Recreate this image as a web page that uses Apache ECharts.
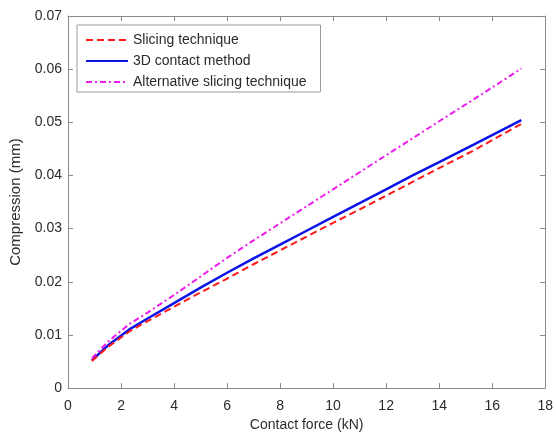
<!DOCTYPE html>
<html>
<head>
<meta charset="utf-8">
<script src="https://cdn.jsdelivr.net/npm/echarts@6/dist/echarts.min.js"></script>
<style>
  html, body { margin: 0; padding: 0; background: #fff; }
  #chart { width: 556px; height: 437px; }
</style>
</head>
<body>
<div id="chart"></div>
<script>
// Contact force (kN) at which the compression was evaluated
const forceKN = [0.9, 1.5, 2.3, 3, 4, 5, 6, 7, 8, 9, 10, 11, 12, 13, 14, 15.3, 16.2, 17.1];

// Compression (mm) for each method
const slicing = [0.0051, 0.0077, 0.0106, 0.0126, 0.0153, 0.0180, 0.0206, 0.0233, 0.0259, 0.0285,
                 0.0311, 0.0336, 0.0362, 0.0388, 0.0414, 0.0447, 0.0472, 0.0497];
const contact3D = [0.0052, 0.0080, 0.0110, 0.0131, 0.0160, 0.0189, 0.0217, 0.0244, 0.0270, 0.0296,
                   0.0322, 0.0348, 0.0374, 0.0400, 0.0425, 0.0458, 0.0481, 0.0504];
const altSlicing = [0.0056, 0.0087, 0.0120, 0.0142, 0.0175, 0.0210, 0.0245, 0.0278, 0.0310, 0.0342,
                    0.0374, 0.0406, 0.0438, 0.0470, 0.0502, 0.0543, 0.0572, 0.0601];

const seriesNames = ['Slicing technique', '3D contact method', 'Alternative slicing technique'];
const xTicks = [0, 2, 4, 6, 8, 10, 12, 14, 16, 18];
const yTicks = [0, 0.01, 0.02, 0.03, 0.04, 0.05, 0.06, 0.07];

const pairs = ys => forceKN.map((x, i) => [x, ys[i]]);

const font = 'Liberation Sans, Arial, Helvetica, sans-serif';
const axisGray = '#8a8a8a';
const textColor = '#2b2b2b';

const baseAxis = {
  type: 'value',
  axisLine: { show: true, onZero: false, lineStyle: { color: axisGray, width: 1 } },
  axisTick: { show: true, inside: true, length: 5, lineStyle: { color: axisGray } },
  splitLine: { show: false },
  axisLabel: { color: textColor, fontFamily: font, fontSize: 14 }
};

const xRange = { min: xTicks[0], max: xTicks[xTicks.length - 1], interval: xTicks[1] - xTicks[0] };
const yRange = { min: yTicks[0], max: yTicks[yTicks.length - 1], interval: 0.01 };

const chart = echarts.init(document.getElementById('chart'), null, { renderer: 'canvas' });
chart.setOption({
  animation: false,
  backgroundColor: '#fff',
  grid: { left: 68, right: 7, top: 16, bottom: 41, containLabel: false },
  xAxis: [
    Object.assign({}, baseAxis, xRange, {
      position: 'bottom',
      name: 'Contact force (kN)', nameLocation: 'middle', nameGap: 29,
      nameTextStyle: { color: textColor, fontFamily: font, fontSize: 14 },
      axisLabel: Object.assign({}, baseAxis.axisLabel, { margin: 11 })
    }),
    Object.assign({}, baseAxis, xRange, {
      position: 'top',
      axisLabel: { show: false }
    })
  ],
  yAxis: [
    Object.assign({}, baseAxis, yRange, {
      position: 'left',
      name: 'Compression (mm)', nameLocation: 'middle', nameGap: 37,
      nameTextStyle: { color: textColor, fontFamily: font, fontSize: 15 },
      axisLabel: Object.assign({}, baseAxis.axisLabel, { margin: 6, formatter: v => v === 0 ? '0' : v.toFixed(2) })
    }),
    Object.assign({}, baseAxis, yRange, {
      position: 'right',
      axisLabel: { show: false }
    })
  ],
  legend: {
    orient: 'vertical',
    left: 77, top: 25,
    padding: [8, 14, 3, 8],
    itemGap: 7,
    itemWidth: 42, itemHeight: 14,
    backgroundColor: '#fff',
    borderColor: '#9a9a9a', borderWidth: 1,
    itemStyle: { opacity: 0 },
    textStyle: { color: textColor, fontFamily: font, fontSize: 14 },
    data: seriesNames
  },
  series: [
    {
      name: seriesNames[0], type: 'line', data: pairs(slicing), symbol: 'none',
      lineStyle: { color: '#ff1a1a', width: 2, type: [7, 4] },
      itemStyle: { color: '#ff1a1a' }, z: 3
    },
    {
      name: seriesNames[1], type: 'line', data: pairs(contact3D), symbol: 'none',
      lineStyle: { color: '#0a14e6', width: 2.5, type: 'solid' },
      itemStyle: { color: '#0a14e6' }, z: 2
    },
    {
      name: seriesNames[2], type: 'line', data: pairs(altSlicing), symbol: 'none',
      lineStyle: { color: '#ee1aee', width: 2, type: [6, 3, 2, 3] },
      itemStyle: { color: '#ee1aee' }, z: 4
    }
  ]
});
</script>
</body>
</html>
